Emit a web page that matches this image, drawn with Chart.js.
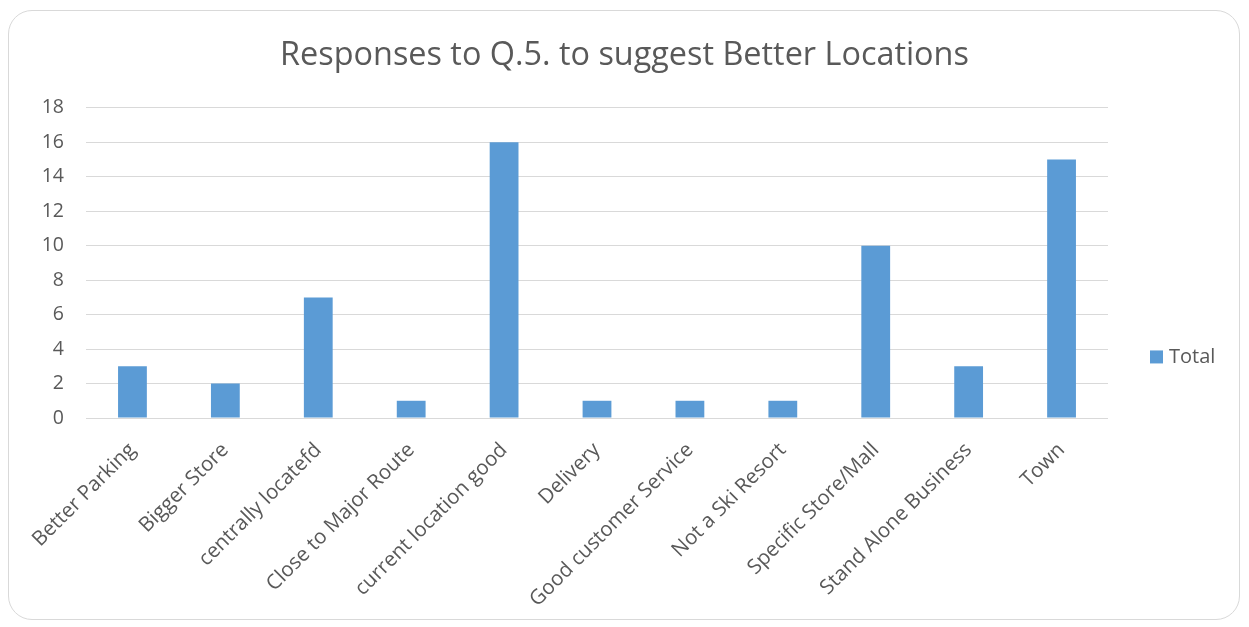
<!DOCTYPE html>
<html>
<head>
<meta charset="utf-8">
<script src="https://cdn.jsdelivr.net/npm/chart.js@4/dist/chart.umd.min.js"></script>
<style>
  html, body { margin: 0; padding: 0; background: #ffffff; }
  #frame { position: absolute; left: 8px; top: 10px; width: 1230px; height: 608px;
           border: 1px solid #d9d9d9; border-radius: 24px; box-sizing: content-box; }
  #wrap { position: absolute; left: 0; top: 0; width: 1249px; height: 627px; }
</style>
</head>
<body>
<div id="frame"></div>
<div id="wrap"><canvas id="c" width="1249" height="627"></canvas></div>
<script>
const chartTitle = "Responses to Q.5. to suggest Better Locations";
const categories = ["Better Parking", "Bigger Store", "centrally locatefd", "Close to Major Route",
  "current location good", "Delivery", "Good customer Service", "Not a Ski Resort",
  "Specific Store/Mall", "Stand Alone Business", "Town"];
const seriesName = "Total";
const totals = [3, 2, 7, 1, 16, 1, 1, 1, 10, 3, 15];
const yMin = 0, yMax = 18, yStep = 2;

const FONT = "'Open Sans', sans-serif";
const TEXT = "#595959";
const BAR = "#5B9BD5";

const sideLegend = {
  id: 'sideLegend',
  afterDraw(chart) {
    const ctx = chart.ctx;
    const ds = chart.data.datasets[0];
    const a = chart.chartArea;
    const cy = (a.top - 10 + chart.height - 10) / 2;
    const x = a.right + 42;
    ctx.save();
    ctx.fillStyle = ds.backgroundColor;
    ctx.fillRect(x, cy - 7, 13, 13);
    ctx.fillStyle = TEXT;
    ctx.font = "20px " + FONT;
    ctx.textBaseline = "middle";
    ctx.textAlign = "left";
    ctx.fillText(ds.label, x + 19, cy);
    ctx.restore();
  }
};

new Chart(document.getElementById('c'), {
  type: 'bar',
  data: {
    labels: categories,
    datasets: [{
      label: seriesName,
      data: totals,
      backgroundColor: BAR,
      borderWidth: 0,
      barPercentage: 0.31,
      categoryPercentage: 1.0
    }]
  },
  options: {
    responsive: false,
    animation: false,
    layout: { padding: 0 },
    plugins: {
      legend: { display: false },
      tooltip: { enabled: false },
      title: {
        display: true,
        text: chartTitle,
        color: TEXT,
        font: { family: FONT, size: 32.4, weight: 'normal' },
        padding: { top: 36, bottom: 33 }
      }
    },
    scales: {
      x: {
        grid: { display: false, drawTicks: false },
        border: { display: false },
        ticks: {
          color: TEXT,
          font: { family: FONT, size: 20.5 },
          minRotation: 45, maxRotation: 45,
          autoSkip: false,
          padding: 20
        },
        afterFit(scale) { scale.height = 209; }
      },
      y: {
        min: yMin, max: yMax,
        grid: { color: "#d9d9d9", lineWidth: 1, drawTicks: false },
        border: { display: false },
        ticks: {
          stepSize: yStep,
          color: TEXT,
          font: { family: FONT, size: 19.5 },
          padding: 22
        },
        afterFit(scale) { scale.width = 86; }
      },
      legendSpace: {
        position: 'right',
        grid: { display: false, drawTicks: false },
        border: { display: false },
        ticks: { display: false },
        afterFit(scale) { scale.width = 141; }
      }
    }
  },
  plugins: [sideLegend]
});
</script>
</body>
</html>
